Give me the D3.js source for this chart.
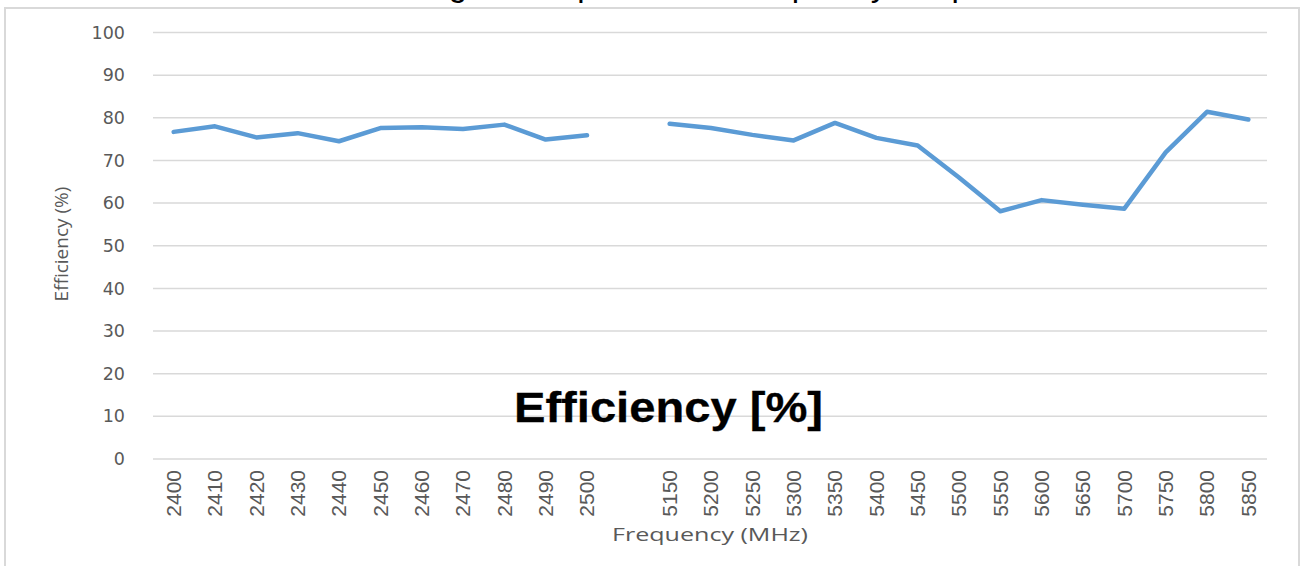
<!DOCTYPE html>
<html>
<head>
<meta charset="utf-8">
<script src="https://cdn.jsdelivr.net/npm/d3@7"></script>
<style>
  body { margin: 0; background: #fff; }
</style>
</head>
<body>
<div id="chart"></div>
<script>
// categories (blank one makes the break between the two bands)
var freqs = ["2400","2410","2420","2430","2440","2450","2460","2470","2480","2490","2500",
             "",
             "5150","5200","5250","5300","5350","5400","5450","5500","5550","5600","5650","5700","5750","5800","5850"];
var efficiency = [76.7, 78.0, 75.4, 76.4, 74.5, 77.6, 77.8, 77.4, 78.4, 74.9, 75.9,
                  null,
                  78.6, 77.6, 76.0, 74.7, 78.8, 75.3, 73.5, 66.0, 58.1, 60.7, 59.6, 58.7, 71.9, 81.4, 79.6];
var yTicks = [0, 10, 20, 30, 40, 50, 60, 70, 80, 90, 100];

var W = 1307, H = 566;
var margin = {top: 32.5, right: 38, bottom: 107, left: 153},
    width = W - margin.left - margin.right,
    height = H - margin.top - margin.bottom;

var svg = d3.select("#chart").append("svg")
    .attr("width", W)
    .attr("height", H);

// outer frame
svg.append("rect")
    .attr("x", 5).attr("y", 8)
    .attr("width", 1294).attr("height", 620)
    .attr("fill", "none")
    .attr("stroke", "#d9d9d9")
    .attr("stroke-width", 2);

// clipped title (only descenders show)
var title = svg.append("text")
    .attr("x", 0)
    .attr("y", -4)
    .style("font-family", "Liberation Sans, Arial, sans-serif")
    .style("font-size", "33px")
    .style("fill", "#000")
    .text("Antenna Testing & Comparison to Frequency Graph");
// shift so the "q" of Frequency lands where it is in the picture
var txt = title.text(), qi = txt.indexOf("q");
var qx = title.node().getStartPositionOfChar(qi).x + title.node().getExtentOfChar(qi).width / 2;
title.attr("x", 790 - qx);

var g = svg.append("g")
    .attr("transform", "translate(" + margin.left + "," + margin.top + ")");

var x = d3.scaleBand()
    .domain(d3.range(freqs.length))
    .range([0, width]);

var y = d3.scaleLinear()
    .domain([0, 100])
    .range([height, 0]);

// gridlines
g.append("g")
    .selectAll("line")
    .data(yTicks)
    .enter().append("line")
    .attr("x1", 0).attr("x2", width - 2)
    .attr("y1", function(d) { return y(d); })
    .attr("y2", function(d) { return y(d); })
    .attr("stroke", "#d9d9d9")
    .attr("stroke-width", 1.5);

// y axis labels
var yAxis = g.append("g")
    .call(d3.axisLeft(y).tickValues(yTicks).tickSize(0).tickPadding(28));
yAxis.select(".domain").remove();
yAxis.selectAll("text")
    .style("font-family", "DejaVu Sans, sans-serif")
    .style("font-size", "17.5px")
    .style("fill", "#595959");

// x axis labels
var xAxis = g.append("g")
    .attr("transform", "translate(0," + height + ")")
    .call(d3.axisBottom(x).tickSize(0).tickFormat(function(i) { return freqs[i]; }));
xAxis.select(".domain").remove();
xAxis.selectAll("text")
    .attr("transform", "rotate(-90)")
    .attr("text-anchor", "end")
    .attr("x", -11)
    .attr("y", 0)
    .attr("dy", "0.35em")
    .style("font-family", "Liberation Sans Narrow, Arial Narrow, sans-serif")
    .style("font-size", "21px")
    .style("fill", "#595959");

// line
var line = d3.line()
    .defined(function(d) { return d != null; })
    .x(function(d, i) { return x(i) + x.bandwidth() / 2; })
    .y(function(d) { return y(d); });

g.append("path")
    .datum(efficiency)
    .attr("fill", "none")
    .attr("stroke", "#5b9bd5")
    .attr("stroke-width", 4.5)
    .attr("stroke-linejoin", "round")
    .attr("stroke-linecap", "round")
    .attr("d", line);

// axis titles
svg.append("text")
    .attr("transform", "translate(68,244) rotate(-90)")
    .attr("text-anchor", "middle")
    .style("font-family", "Open Sans, sans-serif")
    .style("font-size", "19px")
    .style("fill", "#595959")
    .text("Efficiency (%)");

svg.append("text")
    .attr("x", 612)
    .attr("y", 541)
    .attr("textLength", 196)
    .attr("lengthAdjust", "spacingAndGlyphs")
    .style("font-family", "Open Sans, sans-serif")
    .style("font-size", "19px")
    .style("fill", "#595959")
    .text("Frequency (MHz)");

// big overlaid label
svg.append("text")
    .attr("x", 514)
    .attr("y", 422)
    .attr("textLength", 309)
    .attr("lengthAdjust", "spacingAndGlyphs")
    .style("font-family", "Liberation Sans, Arial, sans-serif")
    .style("font-weight", "bold")
    .style("font-size", "42px")
    .style("fill", "#000")
    .style("stroke", "#000")
    .style("stroke-width", 0.3)
    .text("Efficiency [%]");
</script>
</body>
</html>
